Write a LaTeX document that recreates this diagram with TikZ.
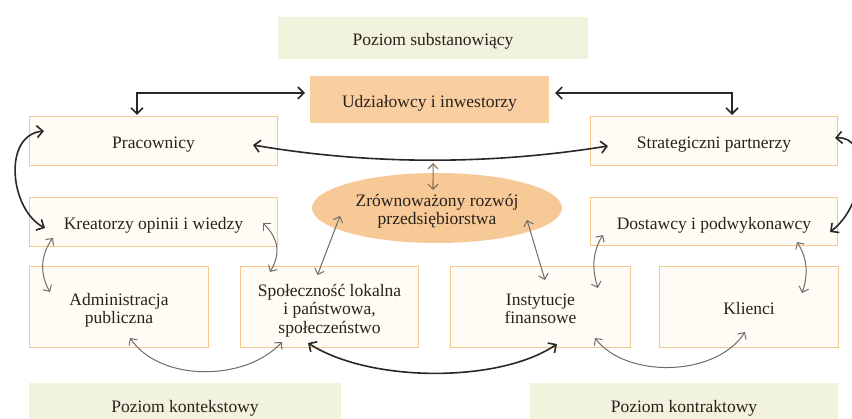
\documentclass[tikz,border=0pt]{standalone}
\usepackage{fontspec}
\setmainfont{Liberation Serif}
\usetikzlibrary{arrows.meta,calc,shapes.geometric}

\definecolor{boxline}{RGB}{243,201,143}
\definecolor{boxfill}{RGB}{255,252,246}
\definecolor{keyfill}{RGB}{249,207,162}
\definecolor{ellfill}{RGB}{247,201,150}
\definecolor{levelfill}{RGB}{242,243,222}
\definecolor{inktext}{RGB}{42,33,28}
\definecolor{darkline}{RGB}{40,40,40}
\definecolor{grayline}{RGB}{110,108,106}
\definecolor{brownline}{RGB}{140,112,84}

% centred label, set a little below the geometric centre of its box
\newcommand{\celltext}[1]{\raisebox{-4pt}[\height][\depth]{\begin{tabular}{@{}c@{}}#1\end{tabular}}}

\begin{document}
\begin{tikzpicture}[x=1pt,y=-1pt,
  every node/.style={text=inktext, font=\fontsize{17.5}{18.5}\selectfont, inner sep=0pt},
  actor/.style={draw=boxline, line width=1.5pt, fill=boxfill},
  keyactor/.style={fill=keyfill},
  level/.style={fill=levelfill},
  strongrel/.style={draw=darkline, line width=1.6pt,
    {Straight Barb[length=6pt,width=12pt]}-{Straight Barb[length=6pt,width=12pt]}},
  weakrel/.style={draw=grayline, line width=1pt,
    {Straight Barb[length=5pt,width=10pt]}-{Straight Barb[length=5pt,width=10pt]}},
  corerel/.style={draw=brownline, line width=1.1pt,
    {Straight Barb[length=5pt,width=10pt]}-{Straight Barb[length=5pt,width=10pt]}}
]
\useasboundingbox (0,0) rectangle (852,419);
\clip (0,0) rectangle (852,419);

% levels
\node[level, minimum width=310pt, minimum height=42pt] (lvls) at (433,38) {\celltext{Poziom substanowiący}};
\node[level, minimum width=312pt, minimum height=44pt] (lvlk) at (185,405) {\celltext{Poziom kontekstowy}};
\node[level, minimum width=308pt, minimum height=44pt] (lvlr) at (684,405) {\celltext{Poziom kontraktowy}};

% stakeholders
\node[keyactor, minimum width=239pt, minimum height=47pt] (udz) at (429.5,99.5) {\celltext{Udziałowcy i inwestorzy}};
\node[actor, minimum width=248pt, minimum height=49pt] (prac) at (153.5,141) {\celltext{Pracownicy}};
\node[actor, minimum width=247pt, minimum height=49pt] (strat) at (714,141) {\celltext{Strategiczni partnerzy}};
\node[actor, minimum width=248pt, minimum height=49pt] (kreat) at (153.5,222) {\celltext{Kreatorzy opinii i wiedzy}};
\node[actor, minimum width=247pt, minimum height=48pt] (dost) at (714,221.5) {\celltext{Dostawcy i podwykonawcy}};
\node[actor, minimum width=179pt, minimum height=81pt] (adm) at (119,307) {\celltext{Administracja\\publiczna}};
\node[actor, minimum width=178pt, minimum height=81pt] (spol) at (329.5,307) {\celltext{Społeczność lokalna\\i państwowa,\\społeczeństwo}};
\node[actor, minimum width=180pt, minimum height=81pt] (inst) at (540.5,307) {\celltext{Instytucje\\finansowe}};
\node[actor, minimum width=179pt, minimum height=81pt] (klien) at (749,307) {\celltext{Klienci}};

% core goal
\node[ellipse, fill=ellfill, minimum width=250pt, minimum height=70pt] (ell) at (437,208) {\celltext{Zrównoważony rozwój\\przedsiębiorstwa}};

% strong relations
\draw[strongrel] ($(udz)+(-124.5,-6.5)$) -| ($(prac)+(-16.5,-26)$);
\draw[strongrel] ($(udz)+(125.5,-6.5)$) -| ($(strat)+(18,-26)$);
\draw[strongrel] ($(prac)+(99.5,4)$) .. controls +(117,20) and +(-118,19) .. ($(strat)+(-106,5)$)
  node[pos=0.5, coordinate] (cmid) {};
\draw[strongrel] ($(prac)+(-109.5,-10)$) .. controls +(-42,4) and +(-35,-18) .. ($(kreat)+(-108.5,6)$);
\draw[strongrel] ($(strat)+(121,-3)$) .. controls +(36,-3) and +(36,-27) .. ($(dost)+(116,10.5)$);
\draw[strongrel] ($(spol)+(-21.5,36)$) .. controls +(62,40) and +(-57,39) .. ($(inst)+(16.5,37)$);

% link to the core goal
\draw[corerel] ($(cmid)+(3,3)$) -- ($(ell)+(-4,-18)$);

% weak relations
\draw[weakrel] ($(kreat)+(-100.5,16)$) .. controls +(-13,17) and +(-10,-17) .. ($(adm)+(-69,-15)$);
\draw[weakrel] ($(kreat)+(109.5,1)$) .. controls +(17,17) and +(10,-17) .. ($(spol)+(-59.5,-35)$);
\draw[weakrel] ($(ell)+(-97,8)$) -- ($(spol)+(-12,-32)$);
\draw[weakrel] ($(ell)+(90,12)$) -- ($(inst)+(4.5,-27)$);
\draw[weakrel] ($(dost)+(-111,13.5)$) .. controls +(-11,17) and +(-6,-17) .. ($(inst)+(57.5,-19)$);
\draw[weakrel] ($(dost)+(83,20.5)$) .. controls +(11,17) and +(6,-17) .. ($(klien)+(53,-14)$);
\draw[weakrel] ($(adm)+(11,31)$) .. controls +(30,44) and +(-37,40) .. ($(spol)+(-47.5,35)$);
\draw[weakrel] ($(inst)+(54.5,31)$) .. controls +(30,40) and +(-30,46) .. ($(klien)+(-4,25)$);
\end{tikzpicture}
\end{document}
